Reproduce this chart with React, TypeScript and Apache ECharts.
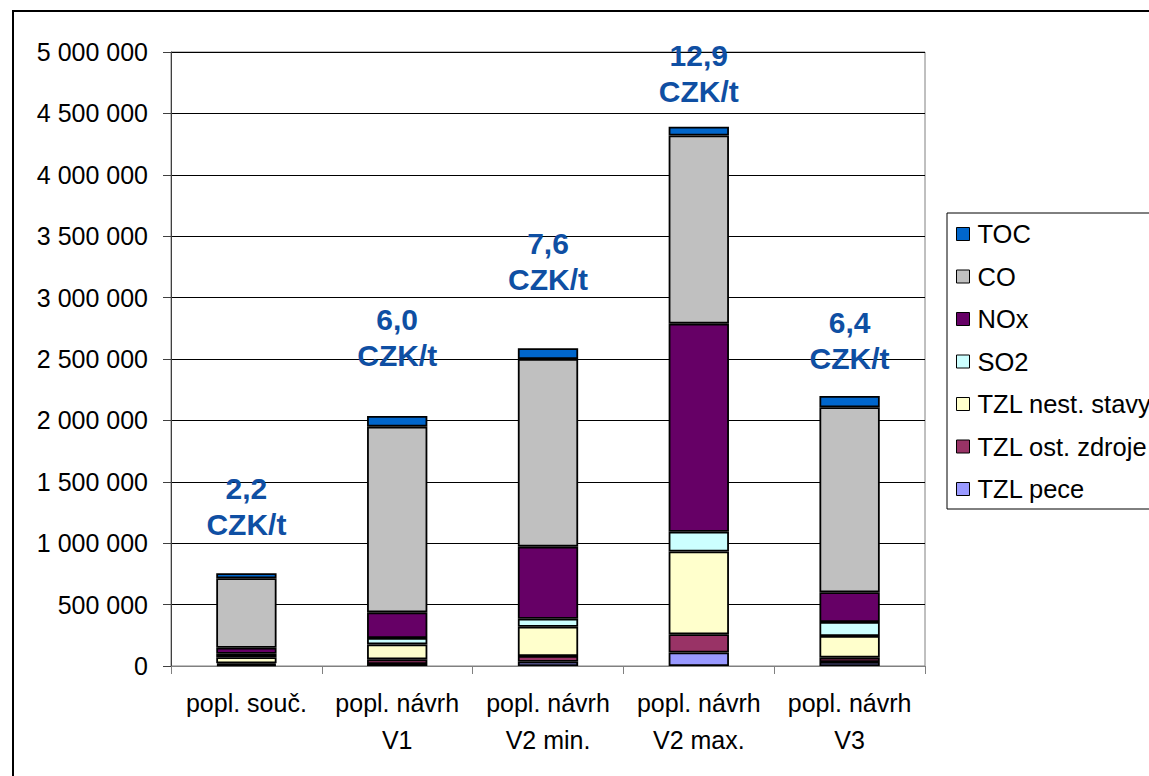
import React, { useEffect, useRef } from "react";
import * as echarts from "echarts";

const categories = [
  "popl. souč.",
  "popl. návrh\nV1",
  "popl. návrh\nV2 min.",
  "popl. návrh\nV2 max.",
  "popl. návrh\nV3",
];

const tzlPece = [10000, 16000, 35000, 110000, 33000];
const tzlOst = [12000, 38000, 46000, 149000, 35000];
const tzlNest = [49000, 122000, 239000, 674000, 176000];
const so2 = [29000, 52000, 65000, 160000, 114000];
const nox = [49000, 209000, 587000, 1695000, 242000];
const co = [565000, 1512000, 1528000, 1532000, 1507000];
const toc = [41000, 87000, 87000, 72000, 92000];

const costLabels = ["2,2", "6,0", "7,6", "12,9", "6,4"];
const labelGaps = [31, 42, 51, 17, 19];

const seriesDefs = [
  { name: "TZL pece", data: tzlPece, color: "#9999FF" },
  { name: "TZL ost. zdroje", data: tzlOst, color: "#993366" },
  { name: "TZL nest. stavy", data: tzlNest, color: "#FFFFCC" },
  { name: "SO2", data: so2, color: "#CCFFFF" },
  { name: "NOx", data: nox, color: "#660066" },
  { name: "CO", data: co, color: "#C0C0C0" },
  { name: "TOC", data: toc, color: "#0066CC" },
];

const FONT = "Arial, 'Liberation Sans', sans-serif";

export default function App() {
  const ref = useRef<HTMLDivElement>(null);
  useEffect(() => {
    document.body.style.margin = "0";
    if (!ref.current) return;
    const chart = echarts.init(ref.current, undefined, { renderer: "svg" });
    const series: any[] = seriesDefs.map((s, si) => {
      const isTop = si === seriesDefs.length - 1;
      return {
        name: s.name,
        type: "bar",
        stack: "total",
        barWidth: "40%",
        itemStyle: { color: s.color, borderColor: "#000", borderWidth: 1.8 },
        data: s.data.map((v, i) =>
          isTop
            ? {
                value: v,
                label: {
                  show: true,
                  position: "top",
                  distance: labelGaps[i],
                  formatter: costLabels[i] + "\nCZK/t",
                  fontFamily: FONT,
                  fontWeight: "bold",
                  fontSize: 30,
                  lineHeight: 36,
                  color: "#0F4FA3",
                },
              }
            : v
        ),
      };
    });
    chart.setOption({
      animation: false,
      backgroundColor: "#fff",
      textStyle: { fontFamily: FONT },
      graphic: [
        {
          type: "rect",
          shape: { x: 13, y: 11, width: 1300, height: 900 },
          style: { fill: "none", stroke: "#000", lineWidth: 2 },
          silent: true,
        },
      ],
      grid: {
        left: 171,
        right: 224,
        top: 52,
        bottom: 110,
        show: true,
        borderColor: "#808080",
        borderWidth: 1,
        backgroundColor: "transparent",
      },
      legend: {
        orient: "vertical",
        left: 947,
        top: 213,
        data: ["TOC", "CO", "NOx", "SO2", "TZL nest. stavy", "TZL ost. zdroje", "TZL pece"],
        itemWidth: 13,
        itemHeight: 13,
        itemGap: 14.5,
        icon: "rect",
        itemStyle: { borderColor: "#000", borderWidth: 1 },
        padding: [7, 20, 6, 9],
        borderColor: "#000",
        borderWidth: 1,
        textStyle: { fontFamily: FONT, fontSize: 25.5, lineHeight: 28, color: "#000", padding: [0, 0, 0, 3] },
      },
      xAxis: {
        type: "category",
        data: categories,
        axisLine: { lineStyle: { color: "#808080", width: 1 } },
        axisTick: { show: true, length: 8, lineStyle: { color: "#808080" } },
        axisLabel: {
          interval: 0,
          margin: 18,
          fontFamily: FONT,
          fontSize: 25,
          lineHeight: 37,
          color: "#000",
        },
      },
      yAxis: {
        type: "value",
        min: 0,
        max: 5000000,
        interval: 500000,
        axisLine: { show: true, lineStyle: { color: "#404040", width: 1 } },
        axisTick: { show: true, length: 8, lineStyle: { color: "#404040" } },
        splitLine: { lineStyle: { color: "#000", width: 1 } },
        axisLabel: {
          margin: 23,
          fontFamily: FONT,
          fontSize: 25,
          color: "#000",
          formatter: (v: number) => String(v).replace(/\B(?=(\d{3})+(?!\d))/g, " "),
        },
      },
      series,
    });
    return () => chart.dispose();
  }, []);
  return <div ref={ref} style={{ width: 1149, height: 776 }} />;
}
